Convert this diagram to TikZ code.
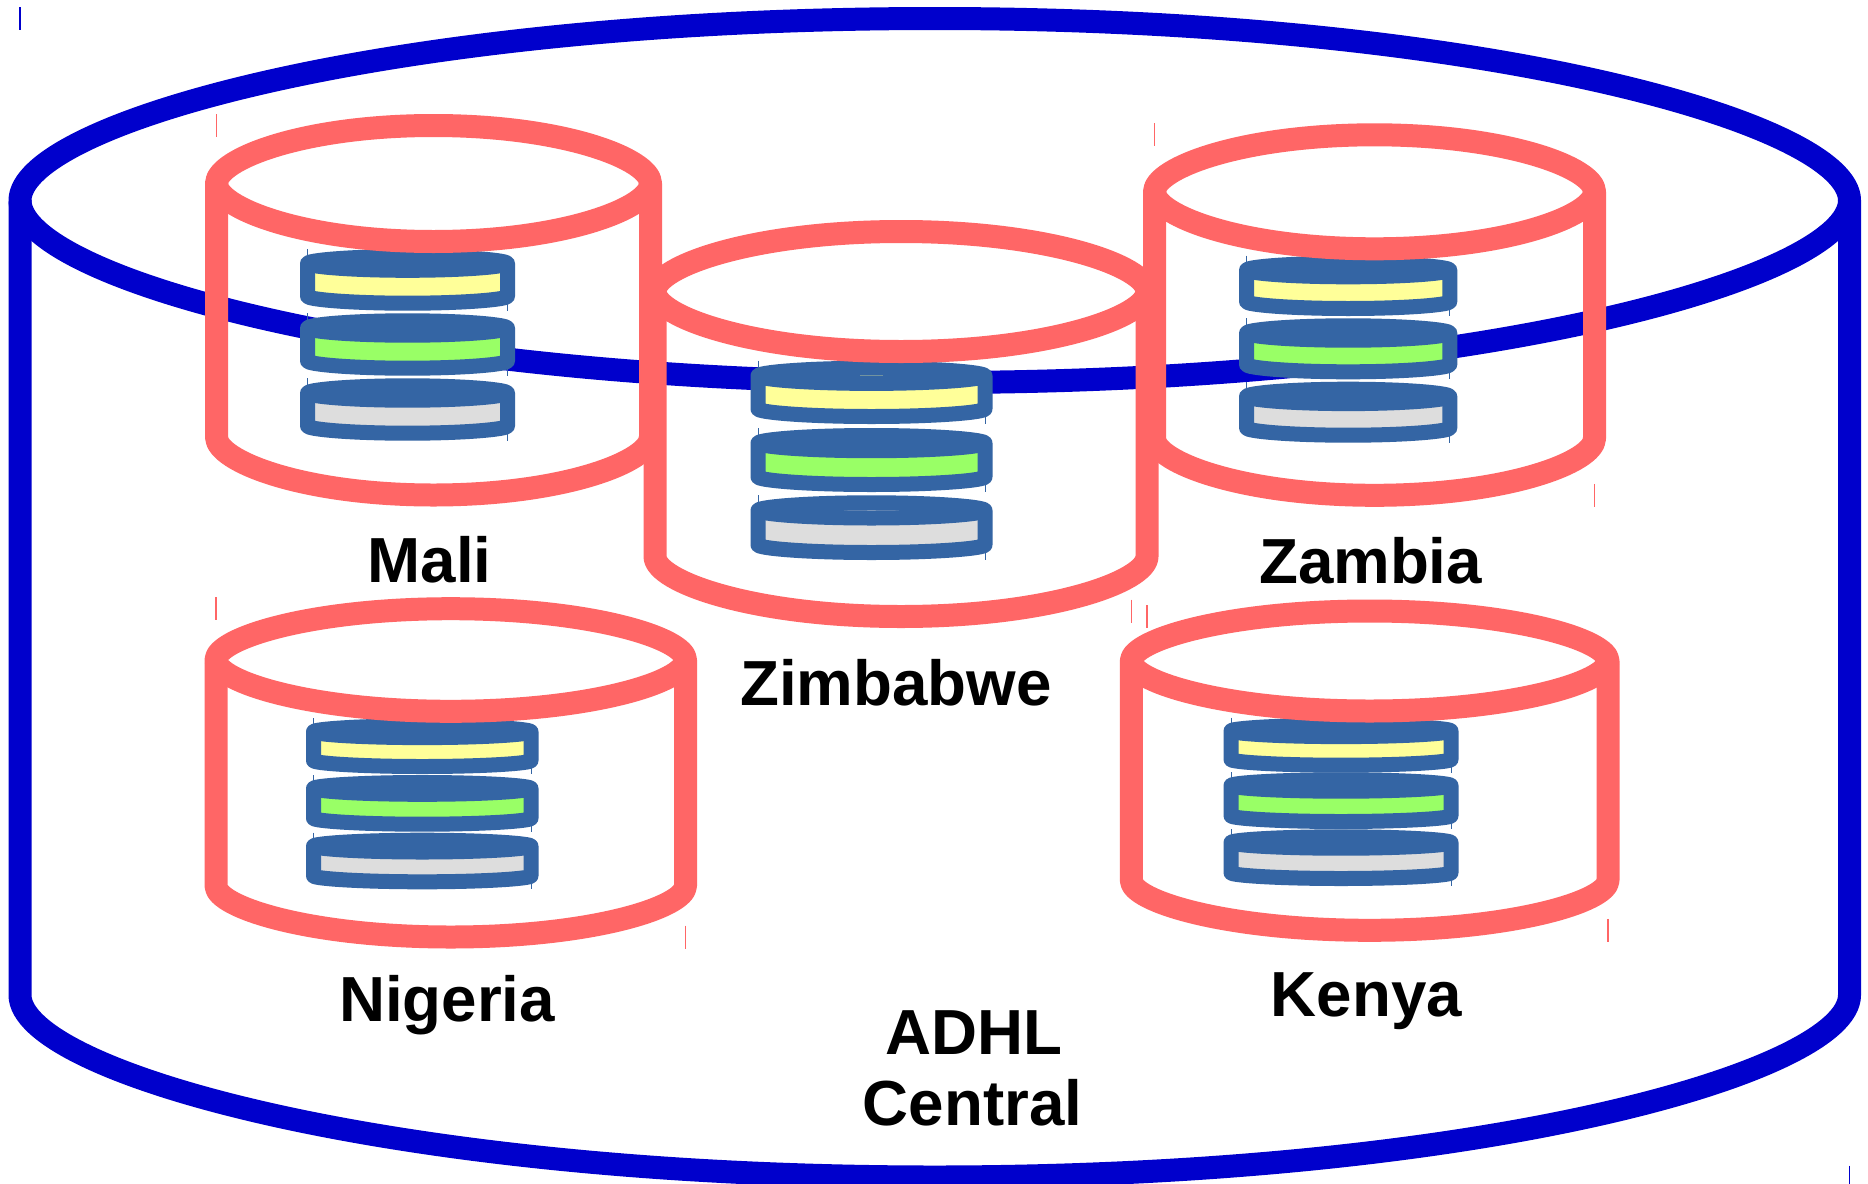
\documentclass[tikz,border=0pt]{standalone}
\usepackage{fontspec}
\setmainfont{Liberation Sans}
\definecolor{bigblue}{HTML}{0000CC}
\definecolor{pinkred}{HTML}{FF6666}
\definecolor{diskblue}{HTML}{3465A4}
\definecolor{fillyellow}{HTML}{FFFF99}
\definecolor{fillgreen}{HTML}{99FF66}
\definecolor{fillgray}{HTML}{DDDDDD}
% #1 left, #2 right, #3 ellipse centre y, #4 ry, #5 side bottom y, #6 colour, #7 width, #8 fill, #9 tick width
\newcommand\cancyl[9]{%
  \pgfmathsetmacro\cx{(#1+#2)/2}%
  \pgfmathsetmacro\rx{(#2-#1)/2}%
  \pgfmathsetmacro\kb{0.60*\rx}%
  \pgfmathsetmacro\ka{0.42*#4}%
  \pgfmathsetmacro\ta{#3-#4-#7/2}%
  \pgfmathsetmacro\tb{\ta+23}%
  \pgfmathsetmacro\tc{#5+#4+#7/2}%
  \pgfmathsetmacro\td{\tc-23}%
  \pgfmathsetmacro\xa{\cx-\kb}%
  \pgfmathsetmacro\xb{\cx+\kb}%
  \pgfmathsetmacro\ya{#3-#4}%
  \pgfmathsetmacro\yb{#3+#4}%
  \pgfmathsetmacro\yc{#3-\ka}%
  \pgfmathsetmacro\yd{#3+\ka}%
  \pgfmathsetmacro\ye{#5+#4}%
  \pgfmathsetmacro\yf{#5+\ka}%
  \draw[#6,line width=#7pt,line join=round,fill=#8]
    (#1,#3) -- (#1,#5)
    .. controls (#1,\yf) and (\xa,\ye) .. (\cx,\ye)
    .. controls (\xb,\ye) and (#2,\yf) .. (#2,#5) -- (#2,#3)
    .. controls (#2,\yc) and (\xb,\ya) .. (\cx,\ya)
    .. controls (\xa,\ya) and (#1,\yc) .. cycle;
  \draw[#6,line width=#7pt,line join=round]
    (#1,#3) .. controls (#1,\yd) and (\xa,\yb) .. (\cx,\yb)
    .. controls (\xb,\yb) and (#2,\yd) .. (#2,#3);
  \draw[#6,line width=#9pt] (#1,\ta) -- (#1,\tb) (#2,\td) -- (#2,\tc);
}
% #1 left, #2 right, #3 outer top, #4 outer bottom, #5 ry, #6 fill
\newcommand\stackdisk[6]{%
  \pgfmathsetmacro\dc{#3+7.5+#5}%
  \pgfmathsetmacro\db{#4-7.5-#5}%
  \cancyl{#1}{#2}{\dc}{#5}{\db}{diskblue}{15}{#6}{1}%
}
\begin{document}
\begin{tikzpicture}[x=1pt,y=-1pt,
  lab/.style={font=\fontsize{63.7}{71}\selectfont\bfseries,text=black,anchor=base,inner sep=0pt,align=center}]
\useasboundingbox (0,0) rectangle (1868,1183);
\clip (0,0) rectangle (1868,1183);
\fill[white] (0,0) rectangle (1868,1183);
% central store
\cancyl{20}{1849.5}{200.5}{182}{995}{bigblue}{23}{none}{1.2}
% disks: Mali
\stackdisk{307.5}{507.5}{249}{310.7}{6.9}{fillyellow}
\stackdisk{307.5}{507.5}{313.3}{375.7}{7.2}{fillgreen}
\stackdisk{307.5}{507.5}{378.3}{440.7}{7.2}{fillgray}
% disks: Zimbabwe
\stackdisk{758}{985}{360.7}{424}{7.6}{fillyellow}
\stackdisk{758}{985}{428}{492}{7.6}{fillgreen}
\stackdisk{758}{985}{495.3}{560}{7.6}{fillgray}
% disks: Zambia
\stackdisk{1246.5}{1449.8}{255.7}{316}{6.8}{fillyellow}
\stackdisk{1246.5}{1449.8}{318.3}{379.3}{7.2}{fillgreen}
\stackdisk{1246.5}{1449.8}{381.7}{442.7}{7.2}{fillgray}
% disks: Nigeria
\stackdisk{313.5}{531}{718.3}{774}{5.9}{fillyellow}
\stackdisk{313.5}{531}{775}{831.7}{5.9}{fillgreen}
\stackdisk{313.5}{531}{832.7}{889.3}{5.9}{fillgray}
% disks: Kenya
\stackdisk{1231}{1451}{717.7}{772.7}{5.7}{fillyellow}
\stackdisk{1231}{1451}{772.3}{829}{5.7}{fillgreen}
\stackdisk{1231}{1451}{829.3}{886}{5.7}{fillgray}
% country stores
\cancyl{216.5}{650.5}{183.5}{58}{437}{pinkred}{23}{none}{1.4}
\cancyl{655}{1147}{291.5}{60}{556.5}{pinkred}{23}{none}{1.4}
\cancyl{1154.5}{1594.5}{191.8}{57}{438.3}{pinkred}{23}{none}{1.4}
\cancyl{216}{685.5}{660}{51.3}{885.7}{pinkred}{23}{none}{1.4}
\cancyl{1131.3}{1608}{661}{50}{880.3}{pinkred}{23}{none}{1.4}
% labels
\node[lab] (mali) at (429.5,582) {Mali};
\node[lab] (zimbabwe) at (896,705.5) {Zimbabwe};
\node[lab] (zambia) at (1370.6,583.5) {Zambia};
\node[lab] (nigeria) at (447,1021.5) {Nigeria};
\node[lab] (kenya) at (1366.5,1016.5) {Kenya};
\node[lab] (adhl) at (973.5,1054) {ADHL};
\node[lab] (central) at (972.5,1125) {Central};
\end{tikzpicture}
\end{document}
